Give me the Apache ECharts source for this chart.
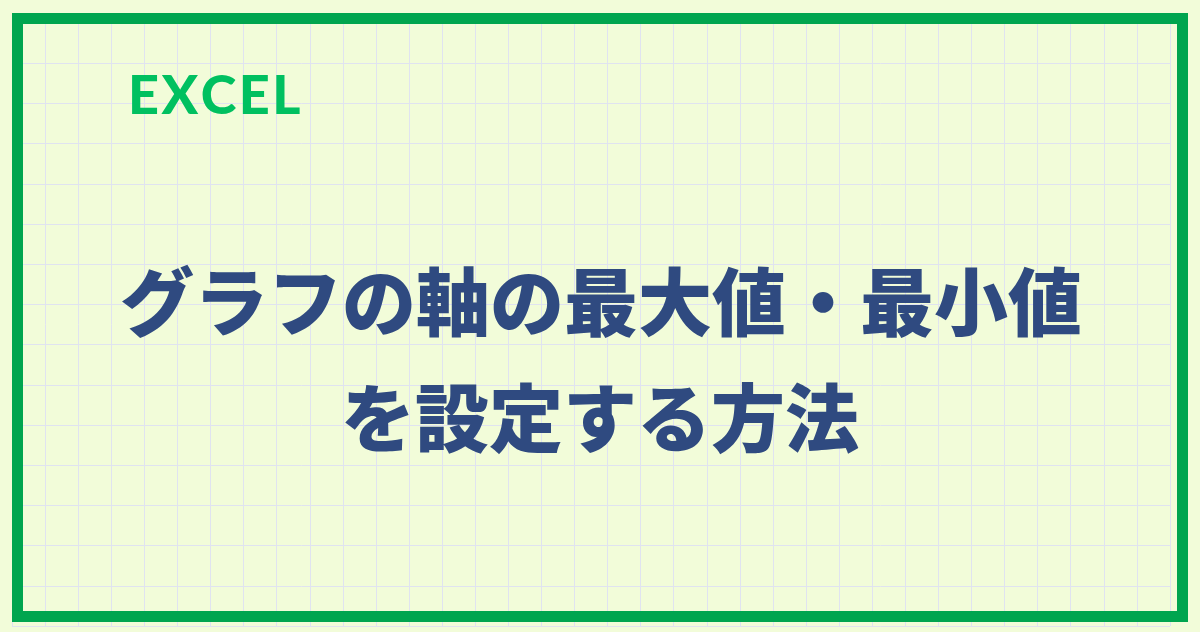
<!DOCTYPE html>
<html>
<head>
<meta charset="utf-8">
<script src="https://cdn.jsdelivr.net/npm/echarts@6/dist/echarts.min.js"></script>
<style>
html,body{margin:0;padding:0;background:#f2fcd9;}
#chart{width:1200px;height:632px;}
</style>
</head>
<body>
<div id="chart"></div>
<script>
// Content
const labelText = "EXCEL";
const titleLines = ["グラフの軸の最大値・最小値", "を設定する方法"];
// Background grid: number of cells
const gridColumns = [0, 35];
const gridRows = [0, 15];

const spacedLabel = labelText.split('').map(function (ch) { return '{l|' + ch + '}'; }).join('');

const chart = echarts.init(document.getElementById('chart'), null, {renderer: 'canvas'});
const option = {
  backgroundColor: '#f2fcd9',
  animation: false,
  grid: {left: 12, right: 30, top: 23, bottom: 6, show: false},
  xAxis: {
    type: 'value', min: gridColumns[0], max: gridColumns[1], interval: 1,
    axisLine: {show: false}, axisTick: {show: false}, axisLabel: {show: false},
    splitLine: {show: true, lineStyle: {color: '#e0e3f0', width: 1}}
  },
  yAxis: {
    type: 'value', min: gridRows[0], max: gridRows[1], interval: 1,
    axisLine: {show: false}, axisTick: {show: false}, axisLabel: {show: false},
    splitLine: {show: true, lineStyle: {color: '#e0e3f0', width: 1}}
  },
  series: [{type: 'scatter', data: [], silent: true}],
  graphic: [
    {
      type: 'rect', silent: true, z: 10,
      shape: {x: 17.5, y: 18.5, width: 1165, height: 598},
      style: {fill: 'none', stroke: '#00a54f', lineWidth: 11}
    },
    {
      type: 'text', z: 11, x: 128, y: 97,
      style: {
        text: spacedLabel, textAlign: 'left', textVerticalAlign: 'middle',
        rich: {l: {fill: '#00c060', fontFamily: 'Lato', fontWeight: 900, fontSize: 54, padding: [0, 2.5, 0, 0]}}
      }
    },
    {
      type: 'text', z: 11, x: 601, y: 302,
      style: {text: titleLines[0], fill: '#2f4a80', font: '900 74px "Noto Sans CJK JP"', textAlign: 'center', textVerticalAlign: 'middle'}
    },
    {
      type: 'text', z: 11, x: 600, y: 418,
      style: {text: titleLines[1], fill: '#2f4a80', font: '900 74px "Noto Sans CJK JP"', textAlign: 'center', textVerticalAlign: 'middle'}
    }
  ]
};
chart.setOption(option);
</script>
</body>
</html>
